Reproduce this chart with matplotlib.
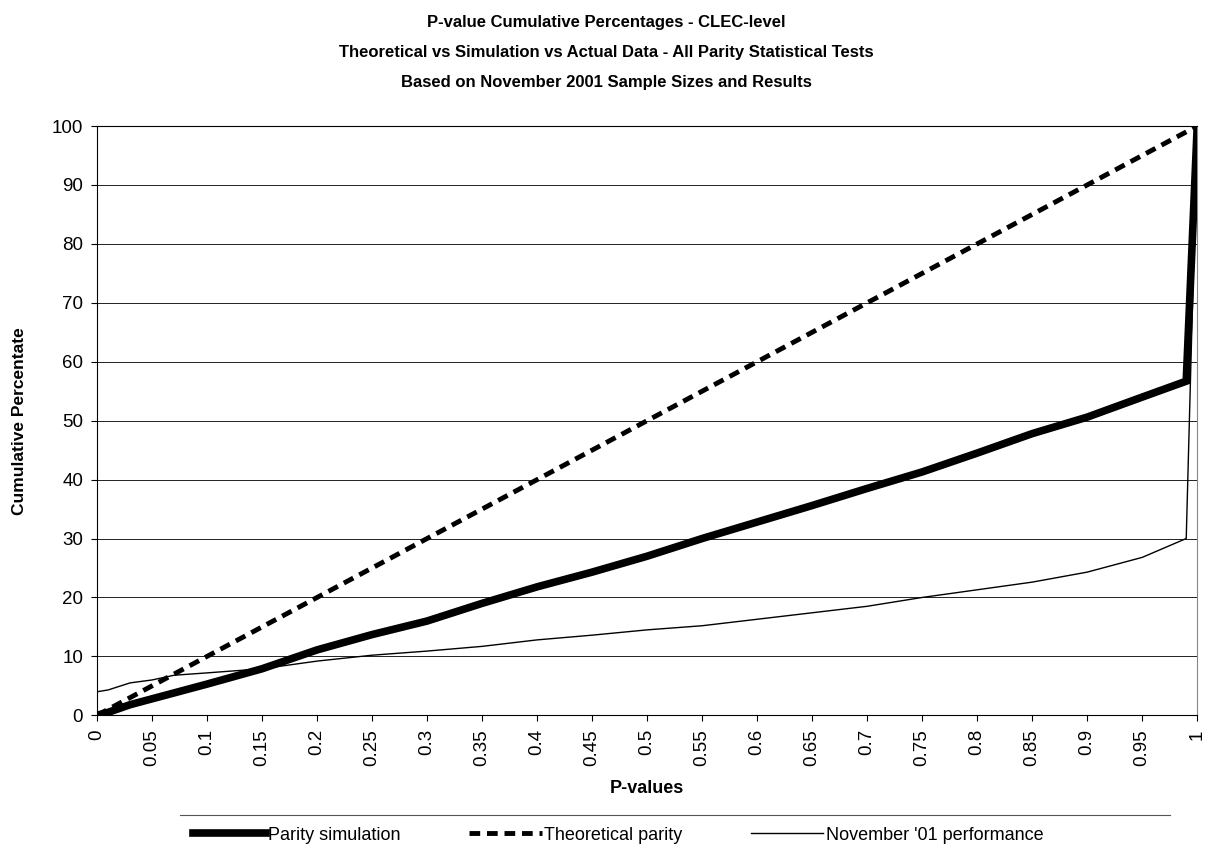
import numpy as np
import matplotlib.pyplot as plt
from matplotlib.lines import Line2D

plt.rcParams['font.family'] = ['Liberation Sans', 'DejaVu Sans']

# p-value points
p_values = [0, 0.01, 0.03, 0.05, 0.07, 0.1, 0.15, 0.2, 0.25, 0.3, 0.35, 0.4, 0.45,
            0.5, 0.55, 0.6, 0.65, 0.7, 0.75, 0.8, 0.85, 0.9, 0.95, 0.99, 1.0]

parity_simulation = [0, 0.5, 1.8, 2.8, 3.8, 5.3, 7.9, 11.1, 13.7, 16.0, 19.0, 21.8, 24.3,
                     27.0, 30.0, 32.8, 35.6, 38.5, 41.3, 44.5, 47.8, 50.6, 54.0, 56.7, 100]

theoretical_parity = [0, 1, 3, 5, 7, 10, 15, 20, 25, 30, 35, 40, 45,
                      50, 55, 60, 65, 70, 75, 80, 85, 90, 95, 99, 100]

november_01 = [4.0, 4.3, 5.5, 6.0, 6.8, 7.2, 7.9, 9.2, 10.2, 10.9, 11.7, 12.8, 13.6,
               14.5, 15.2, 16.3, 17.4, 18.5, 20.0, 21.3, 22.6, 24.3, 26.8, 30.0, 100]

x_ticks = [0, 0.05, 0.1, 0.15, 0.2, 0.25, 0.3, 0.35, 0.4, 0.45, 0.5,
           0.55, 0.6, 0.65, 0.7, 0.75, 0.8, 0.85, 0.9, 0.95, 1]
x_tick_labels = ['0', '0.05', '0.1', '0.15', '0.2', '0.25', '0.3', '0.35', '0.4', '0.45', '0.5',
                 '0.55', '0.6', '0.65', '0.7', '0.75', '0.8', '0.85', '0.9', '0.95', '1']
y_ticks = [0, 10, 20, 30, 40, 50, 60, 70, 80, 90, 100]

title_lines = ['P-value Cumulative Percentages - CLEC-level',
               'Theoretical vs Simulation vs Actual Data - All Parity Statistical Tests',
               'Based on November 2001 Sample Sizes and Results']


fig = plt.figure(figsize=(12.13, 8.66), dpi=100)
ax = fig.add_axes([0.080, 0.174, 0.907, 0.6805])

for yv in y_ticks[1:]:
    ax.axhline(yv, color='#222222', lw=0.7, zorder=1)

ax.plot(p_values, parity_simulation, color='black', lw=5.5, solid_joinstyle='miter',
        label='Parity simulation', zorder=3)
ax.plot(p_values, theoretical_parity, color='black', lw=3.5, dashes=(2.2, 1.4),
        label='Theoretical parity', zorder=3)
ax.plot(p_values, november_01, color='black', lw=1,
        label="November '01 performance", zorder=3)

ax.set_xlim(0, 1)
ax.set_ylim(0, 100)
ax.set_xticks(x_ticks)
ax.set_xticklabels(x_tick_labels, rotation=90, fontsize=13.5)
ax.set_yticks(y_ticks)
ax.set_yticklabels([str(v) for v in y_ticks], fontsize=13.5)
ax.tick_params(direction='out', length=4, width=0.8, pad=6)

for side in ['left', 'bottom', 'right', 'top']:
    ax.spines[side].set_linewidth(0.8)
ax.spines['right'].set_color('#888888')

ax.set_xlabel('P-values', fontsize=13, fontweight='bold', labelpad=10)
ax.set_ylabel('Cumulative Percentate', fontsize=12.5, fontweight='bold', labelpad=18)

for i, line in enumerate(title_lines):
    fig.text(0.5, 1 - (22 + 30 * i) / 866, line, ha='center', va='center',
             fontsize=12, fontweight='bold')

leg = fig.legend(loc='center', bbox_to_anchor=(0.51, 1 - 835 / 866), ncol=3,
                 frameon=False, fontsize=13, handlelength=4.0, columnspacing=3.8,
                 handletextpad=0.15)

fig.add_artist(Line2D([180 / 1213, 1170 / 1213], [1 - 815 / 866, 1 - 815 / 866],
                      color='#555555', lw=0.8))

fig.savefig('out.png', dpi=100)
